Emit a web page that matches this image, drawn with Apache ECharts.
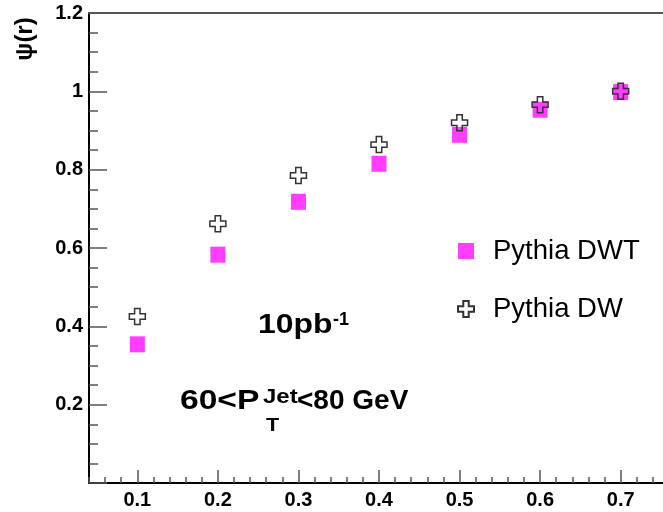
<!DOCTYPE html>
<html><head><meta charset="utf-8">
<script src="https://cdn.jsdelivr.net/npm/echarts@6/dist/echarts.min.js"></script>
<style>html,body{margin:0;padding:0;background:#fff}#c{width:663px;height:512px}</style>
</head><body><div id="c"></div>
<script>
const rValues = [0.1, 0.2, 0.3, 0.4, 0.5, 0.6, 0.7];
const psiDWT = [0.354, 0.583, 0.718, 0.815, 0.889, 0.953, 0.998];
const psiDW  = [0.425, 0.662, 0.785, 0.864, 0.920, 0.966, 1.000];
const xTicks = [0.1, 0.2, 0.3, 0.4, 0.5, 0.6, 0.7];
const yTicks = [0.2, 0.4, 0.6, 0.8, 1, 1.2];

const crossPath = 'path://M3.3,0 H6.7 V3.3 H10 V6.7 H6.7 V10 H3.3 V6.7 H0 V3.3 H3.3 Z';
const FONT = '"Liberation Sans", Arial, Helvetica, sans-serif';

const chart = echarts.init(document.getElementById('c'), null, {renderer: 'canvas'});
const boldText = (txt, x, y, size, sx) => ({
  type: 'text', x: x, y: y, scaleX: sx || 1, z: 10,
  style: {text: txt, fill: '#000', font: 'bold ' + size + 'px ' + FONT,
          textAlign: 'left', textVerticalAlign: 'middle'}
});
chart.setOption({
  animation: false,
  backgroundColor: '#fff',
  grid: {left: 89, top: 13, width: 580, height: 470, containLabel: false, outerBoundsMode: 'none'},
  xAxis: [{
    type: 'value', min: 0.04, max: 0.76, interval: 0.02,
    axisLine: {show: true, onZero: false, lineStyle: {color: '#000', width: 2}},
    axisTick: {show: true, inside: true, length: 13, customValues: xTicks, lineStyle: {color: '#555', width: 1.5}},
    axisLabel: {
      fontFamily: FONT, fontWeight: 'bold', fontSize: 20, color: '#000', margin: 7,
      customValues: xTicks, formatter: v => String(Math.round(v * 100) / 100)
    },
    splitLine: {show: false}
  }, {
    type: 'value', min: 0.04, max: 0.76, interval: 0.02, position: 'bottom',
    axisLine: {show: false, onZero: false},
    axisTick: {show: true, inside: true, length: 6, lineStyle: {color: '#555', width: 1.5}},
    axisLabel: {show: false}, splitLine: {show: false}
  }, {
    type: 'value', min: 0.04, max: 0.76, interval: 0.02, position: 'top',
    axisLine: {show: true, onZero: false, lineStyle: {color: '#555', width: 2}},
    axisTick: {show: false}, axisLabel: {show: false}, splitLine: {show: false}
  }],
  yAxis: [{
    type: 'value', min: 0, max: 1.2, interval: 0.2,
    axisLine: {show: true, lineStyle: {color: '#000', width: 2}},
    axisTick: {show: true, inside: true, length: 18, lineStyle: {color: '#555', width: 1.5}},
    minorTick: {show: true, splitNumber: 4, length: 9, lineStyle: {color: '#555', width: 1.5}},
    axisLabel: {
      fontFamily: FONT, fontWeight: 'bold', fontSize: 20, color: '#000', margin: 6,
      formatter: v => {
        const m = yTicks.find(t => Math.abs(t - v) < 1e-6);
        return m !== undefined ? String(m) : '';
      }
    },
    splitLine: {show: false}
  }],
  legend: {
    orient: 'vertical', left: 457, top: 237, padding: 0, itemWidth: 16, itemHeight: 16, itemGap: 30,
    textStyle: {fontFamily: FONT, fontSize: 27.5, color: '#000', padding: [0, 0, 0, 14]},
    data: ['Pythia DWT', 'Pythia DW']
  },
  series: [{
    name: 'Pythia DWT', type: 'scatter', symbol: 'rect', symbolSize: [15, 16],
    itemStyle: {color: '#ff3cff', opacity: 1},
    data: rValues.map((r, i) => [r, psiDWT[i]]), z: 2
  }, {
    name: 'Pythia DW', type: 'scatter', symbol: crossPath, symbolSize: 16,
    itemStyle: {color: 'rgba(0,0,0,0)', borderColor: '#333', borderWidth: 1.5, opacity: 1},
    data: rValues.map((r, i) => [r, psiDW[i]]), z: 3
  }],
  graphic: [
    {type: 'text', x: 25, y: 39, rotation: Math.PI / 2, z: 10,
     style: {text: 'ψ(r)', fill: '#000', font: 'bold 24px ' + FONT, textAlign: 'center', textVerticalAlign: 'middle'}},
    boldText('10pb', 258, 325, 28, 1.14),
    boldText('-1', 333, 320, 18, 1.0),
    boldText('60<P', 180, 401, 28, 1.2),
    boldText('Jet', 263, 397, 20, 1.2),
    boldText('T', 266, 426, 18, 1.2),
    boldText('<80 GeV', 297, 401, 28, 1.0)
  ]
});
</script></body></html>
